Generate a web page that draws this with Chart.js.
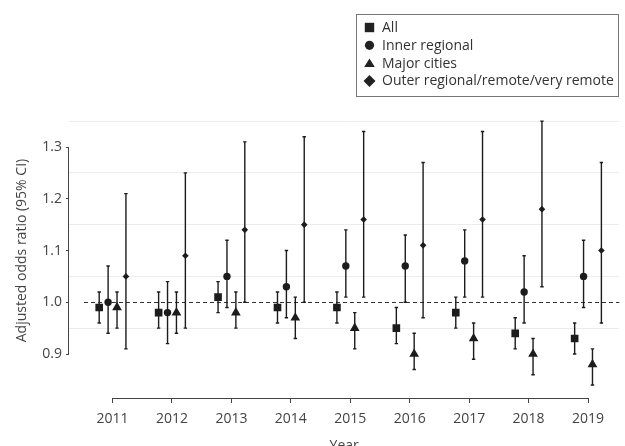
<!DOCTYPE html>
<html>
<head>
<meta charset="utf-8">
<title>Adjusted odds ratio by year</title>
<script src="https://cdn.jsdelivr.net/npm/chart.js@4.4.0/dist/chart.umd.min.js"></script>
<style>
  html, body { margin: 0; padding: 0; overflow: hidden; background: #fff; }
  #wrap { position: relative; width: 625px; height: 460px; }
</style>
</head>
<body>
<div id="wrap"><canvas id="orChart"></canvas></div>
<script>
// ---- data ----
var years = [2011, 2012, 2013, 2014, 2015, 2016, 2017, 2018, 2019];

var allOR   = [0.99, 0.98, 1.01, 0.99, 0.99, 0.95, 0.98, 0.94, 0.93];
var allLo   = [0.96, 0.95, 0.98, 0.96, 0.96, 0.92, 0.95, 0.91, 0.90];
var allHi   = [1.02, 1.02, 1.04, 1.02, 1.02, 0.99, 1.01, 0.97, 0.96];

var innerOR = [1.00, 0.98, 1.05, 1.03, 1.07, 1.07, 1.08, 1.02, 1.05];
var innerLo = [0.94, 0.92, 0.99, 0.97, 1.01, 1.00, 1.01, 0.96, 0.99];
var innerHi = [1.07, 1.04, 1.12, 1.10, 1.14, 1.13, 1.14, 1.09, 1.12];

var majorOR = [0.99, 0.98, 0.98, 0.97, 0.95, 0.90, 0.93, 0.90, 0.88];
var majorLo = [0.95, 0.94, 0.95, 0.93, 0.91, 0.87, 0.89, 0.86, 0.84];
var majorHi = [1.02, 1.02, 1.02, 1.01, 0.98, 0.94, 0.96, 0.93, 0.91];

var outerOR = [1.05, 1.09, 1.14, 1.15, 1.16, 1.11, 1.16, 1.18, 1.10];
var outerLo = [0.91, 0.95, 1.00, 1.00, 1.01, 0.97, 1.01, 1.03, 0.96];
var outerHi = [1.21, 1.25, 1.31, 1.32, 1.33, 1.27, 1.33, 1.35, 1.27];

var seriesNames = ['All', 'Inner regional', 'Major cities', 'Outer regional/remote/very remote'];
var yTicks = [0.9, 1.0, 1.1, 1.2, 1.3];
var gridLevels = [0.95, 1.05, 1.15, 1.25, 1.35];

// ---- look ----
var FONT = '"Open Sans", "DejaVu Sans", sans-serif';
var INK = '#1c1c1c';
var TEXT = '#444';
var dodge = [-0.225, -0.075, 0.075, 0.225];   // side-by-side offset inside a year
var styles = ['rect', 'circle', 'triangle', 'rectRot'];
var radii = [5.4, 3.7, 5.6, 3.3];

var ci = [
  { lo: allLo, hi: allHi },
  { lo: innerLo, hi: innerHi },
  { lo: majorLo, hi: majorHi },
  { lo: outerLo, hi: outerHi }
];

function points(vals, k) {
  return years.map(function (yr, i) { return { x: yr + dodge[k], y: vals[i] }; });
}

function isTick(v) {
  return yTicks.some(function (t) { return Math.abs(t - v) < 1e-6; });
}

// legend marker, drawn by hand so the boxed legend can sit top right
function marker(ctx, style, x, y) {
  ctx.beginPath();
  if (style === 'rect') {
    ctx.rect(x - 4.7, y - 4.7, 9.4, 9.4);
  } else if (style === 'circle') {
    ctx.arc(x, y, 4.6, 0, Math.PI * 2);
  } else if (style === 'triangle') {
    ctx.moveTo(x, y - 4.5);
    ctx.lineTo(x + 5.3, y + 4);
    ctx.lineTo(x - 5.3, y + 4);
    ctx.closePath();
  } else {
    ctx.moveTo(x, y - 6);
    ctx.lineTo(x + 6, y);
    ctx.lineTo(x, y + 6);
    ctx.lineTo(x - 6, y);
    ctx.closePath();
  }
  ctx.fill();
}

var framePlugin = {
  id: 'frame',
  beforeDatasetsDraw: function (chart) {
    var ctx = chart.ctx, xs = chart.scales.x, ys = chart.scales.y, area = chart.chartArea;
    ctx.save();

    // no-effect line at OR = 1
    var y1 = Math.round(ys.getPixelForValue(1.0)) + 0.5;
    ctx.strokeStyle = '#333';
    ctx.lineWidth = 1;
    ctx.setLineDash([4, 3]);
    ctx.beginPath();
    ctx.moveTo(area.left + 15, y1);
    ctx.lineTo(area.right, y1);
    ctx.stroke();
    ctx.setLineDash([]);

    // detached axis lines
    ctx.strokeStyle = '#444';
    var xl = xs.getPixelForValue(years[0]);
    var xr = xs.getPixelForValue(years[years.length - 1]);
    ctx.beginPath();
    ctx.moveTo(xl, area.bottom + 0.5);
    ctx.lineTo(xr, area.bottom + 0.5);
    ctx.stroke();
    var yt = ys.getPixelForValue(yTicks[yTicks.length - 1]);
    var yb = ys.getPixelForValue(yTicks[0]);
    ctx.beginPath();
    ctx.moveTo(area.left - 0.5, yt);
    ctx.lineTo(area.left - 0.5, yb);
    ctx.stroke();

    // 95% CI whiskers
    ctx.strokeStyle = INK;
    ctx.lineWidth = 1.4;
    ci.forEach(function (s, k) {
      years.forEach(function (yr, i) {
        var px = xs.getPixelForValue(yr + dodge[k]);
        var top = ys.getPixelForValue(s.hi[i]);
        var bot = ys.getPixelForValue(s.lo[i]);
        ctx.beginPath();
        ctx.moveTo(px, top); ctx.lineTo(px, bot);
        ctx.moveTo(px - 1.7, top); ctx.lineTo(px + 1.7, top);
        ctx.moveTo(px - 1.7, bot); ctx.lineTo(px + 1.7, bot);
        ctx.stroke();
      });
    });
    ctx.restore();
  },
  afterDraw: function (chart) {
    var ctx = chart.ctx, ys = chart.scales.y;
    ctx.save();

    // y title, centred on the labelled span of the axis
    var cy = (ys.getPixelForValue(yTicks[0]) + ys.getPixelForValue(yTicks[yTicks.length - 1])) / 2;
    ctx.translate(22, cy);
    ctx.rotate(-Math.PI / 2);
    ctx.fillStyle = TEXT;
    ctx.font = '14px ' + FONT;
    ctx.textAlign = 'center';
    ctx.textBaseline = 'middle';
    ctx.fillText('Adjusted odds ratio (95% CI)', 0, 0);
    ctx.restore();

    // boxed legend
    ctx.save();
    ctx.strokeStyle = '#777';
    ctx.lineWidth = 1;
    ctx.strokeRect(356.5, 14.5, 262, 82);
    ctx.font = '14px ' + FONT;
    ctx.textAlign = 'left';
    ctx.textBaseline = 'middle';
    seriesNames.forEach(function (name, k) {
      var ry = 27.5 + k * 17.8;
      ctx.fillStyle = '#222';
      marker(ctx, styles[k], 369.5, ry);
      ctx.fillStyle = '#333';
      ctx.fillText(name, 382, ry + 0.5);
    });
    ctx.restore();
  }
};

var datasets = [allOR, innerOR, majorOR, outerOR].map(function (vals, k) {
  return {
    label: seriesNames[k],
    data: points(vals, k),
    pointStyle: styles[k],
    pointRadius: radii[k],
    backgroundColor: INK,
    borderColor: INK,
    borderWidth: 0,
    showLine: false
  };
});

var orCanvas = document.getElementById('orChart').getContext('2d');
var orChart = new Chart(orCanvas, {
  type: 'scatter',
  data: { datasets: datasets },
  options: {
    responsive: true,
    maintainAspectRatio: false,
    animation: false,
    events: [],
    layout: { padding: { top: 116, left: 0, right: 0, bottom: 0 } },
    plugins: {
      legend: { display: false },
      tooltip: { enabled: false }
    },
    scales: {
      x: {
        type: 'linear',
        min: 2010.267,
        max: 2019.528,
        afterFit: function (s) { s.height = 62; },
        afterBuildTicks: function (s) {
          s.ticks = years.map(function (v) { return { value: v }; });
        },
        border: { display: false },
        grid: { drawOnChartArea: false, drawTicks: true, tickLength: 5, tickColor: '#444' },
        ticks: {
          autoSkip: false,
          maxRotation: 0,
          padding: 8,
          color: TEXT,
          font: { family: FONT, size: 14 },
          callback: function (v) { return String(v); }
        },
        title: {
          display: true,
          text: 'Year',
          color: TEXT,
          font: { family: FONT, size: 14 },
          padding: { top: 0, bottom: 6 }
        }
      },
      y: {
        min: 0.815,
        max: 1.36,
        afterFit: function (s) { s.width = 69; },
        afterBuildTicks: function (s) {
          s.ticks = yTicks.concat(gridLevels).sort().map(function (v) { return { value: v }; });
        },
        border: { display: false },
        grid: {
          drawTicks: true,
          tickLength: 3,
          color: function (c) { return isTick(c.tick.value) ? 'rgba(0,0,0,0)' : '#ececec'; },
          tickColor: function (c) { return isTick(c.tick.value) ? '#444' : 'rgba(0,0,0,0)'; }
        },
        ticks: {
          padding: 4,
          color: TEXT,
          font: { family: FONT, size: 14 },
          callback: function (v) { return isTick(v) ? v.toFixed(1) : ''; }
        }
      }
    }
  },
  plugins: [framePlugin]
});
</script>
</body>
</html>
